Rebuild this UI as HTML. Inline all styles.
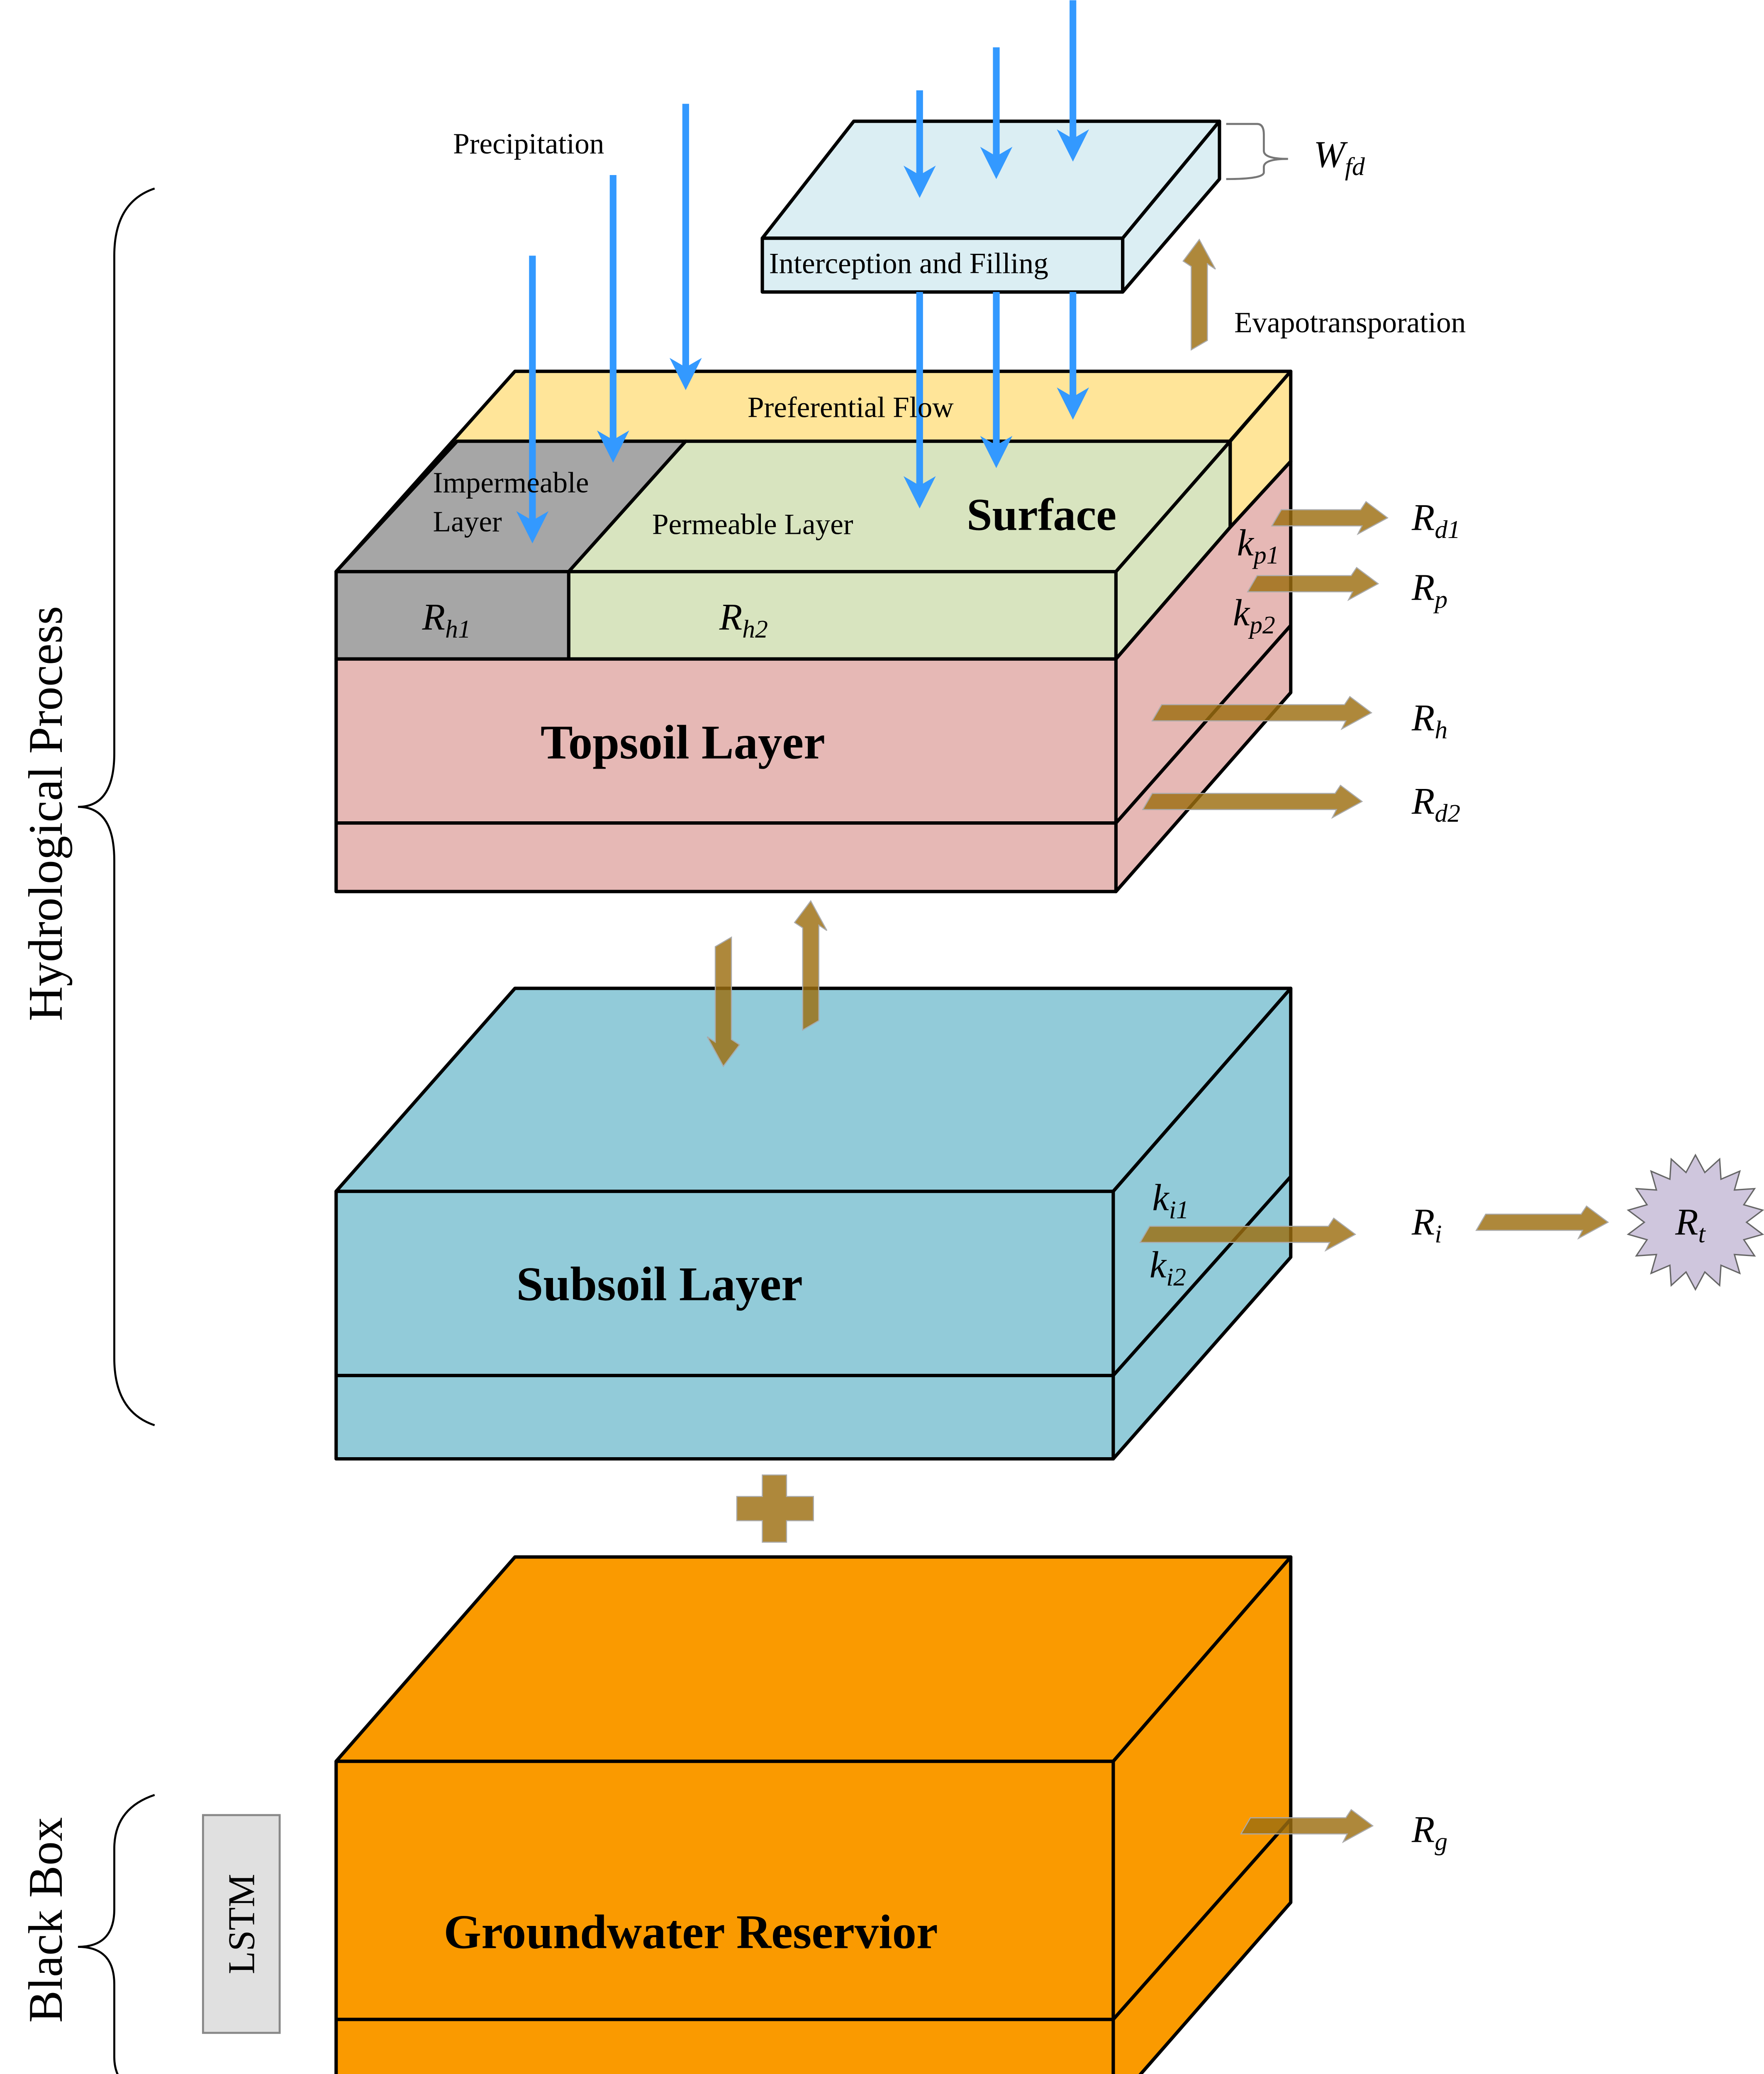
<!DOCTYPE html>
<html><head><meta charset="utf-8">
<style>
html,body{margin:0;padding:0;background:#fff;width:4252px;height:5083px;overflow:hidden;}
svg{display:block;}
text{font-family:"Liberation Serif",serif;}
</style></head>
<body>
<svg width="4252" height="5083" viewBox="0 0 1312 1568" xmlns="http://www.w3.org/2000/svg">
<rect width="1312" height="1568" fill="#fff"/>
<g stroke="#000" stroke-width="2.5" stroke-linejoin="round">
<polygon points="250,1310 383,1158 960,1158 828,1310" fill="#fa9a00"/>
<polygon points="828,1310 960,1158 960,1415 828,1566" fill="#fa9a00"/>
<rect x="250" y="1310" width="578" height="256" fill="#fa9a00"/>
<line x1="250" y1="1502" x2="828" y2="1502"/>
<line x1="828" y1="1502" x2="960" y2="1353"/>
<polygon points="250,886 383,735 960,735 828,886" fill="#92cbd9"/>
<polygon points="828,886 960,735 960,935 828,1085" fill="#92cbd9"/>
<rect x="250" y="886" width="578" height="199" fill="#92cbd9"/>
<line x1="250" y1="1023" x2="828" y2="1023"/>
<line x1="828" y1="1023" x2="960" y2="875"/>
<polygon points="250,425 383,276 960,276 830,425" fill="#ffe599"/>
<polygon points="340,328 510,328 423,425 250,425" fill="#a6a6a6"/>
<polygon points="510,328 915,328 830,425 423,425" fill="#d8e4bf"/>
<polygon points="830,425 915,328 915,392 830,490" fill="#d8e4bf"/>
<polygon points="915,328 960,276 960,343 915,392" fill="#ffe599"/>
<polygon points="830,490 915,392 960,343 960,515 830,663" fill="#e6b8b5"/>
<line x1="830" y1="612" x2="960" y2="465"/>
<rect x="250" y="425" width="173" height="65" fill="#a6a6a6"/>
<rect x="423" y="425" width="407" height="65" fill="#d8e4bf"/>
<rect x="250" y="490" width="580" height="173" fill="#e6b8b5"/>
<line x1="250" y1="612" x2="830" y2="612"/>
<polygon points="567,177 635,90 907,90 835,177" fill="#dbeef3"/>
<polygon points="835,177 907,90 907,133 835,217" fill="#dbeef3"/>
<rect x="567" y="177" width="268" height="40" fill="#dbeef3"/>
</g>
<g stroke="#3399ff" stroke-width="5">
<line x1="396" y1="190" x2="396" y2="390"/>
<line x1="456" y1="130" x2="456" y2="330"/>
<line x1="510" y1="77" x2="510" y2="278"/>
<line x1="684" y1="67" x2="684" y2="135"/>
<line x1="741" y1="35" x2="741" y2="120"/>
<line x1="798" y1="0" x2="798" y2="108"/>
<line x1="684" y1="217" x2="684" y2="365"/>
<line x1="741" y1="217" x2="741" y2="335"/>
<line x1="798" y1="217" x2="798" y2="300"/>
</g>
<g fill="#3399ff">
<polygon points="396,404 384,380 396,387 408,380"/>
<polygon points="456,344 444,320 456,327 468,320"/>
<polygon points="510,290 498,266 510,273 522,266"/>
<polygon points="684,147 672,123 684,130 696,123"/>
<polygon points="741,133 729,109 741,116 753,109"/>
<polygon points="798,120 786,96 798,103 810,96"/>
<polygon points="684,378 672,354 684,361 696,354"/>
<polygon points="741,348 729,324 741,331 753,324"/>
<polygon points="798,312 786,288 798,295 810,288"/>
</g>
<g fill="#9c6e10" fill-opacity="0.82" stroke="#aaa" stroke-width="0.8">
<polygon points="953,379 1012,379 1016,373 1032,385 1010,397 1013,391 946,391"/>
<polygon points="935,428 1005,428 1009,422 1025,434 1003,446 1006,440 928,440"/>
<polygon points="864,524 1000,524 1004,518 1020,530 998,542 1001,536 857,536"/>
<polygon points="857,590 993,590 997,584 1013,596 991,608 994,602 850,602"/>
<polygon points="855,912 988,912 992,906 1008,918 986,930 989,924 848,924"/>
<polygon points="1105,903 1176,903 1180,897 1196,909 1174,921 1177,915 1098,915"/>
<polygon points="930,1352 1001,1352 1005,1346 1021,1358 999,1370 1002,1364 923,1364"/>
<polygon points="886,260 886,198 880,194 892,178 904,200 898,196 898,253"/>
<polygon points="597,766 597,690 591,686 603,670 615,692 609,688 609,759"/>
<polygon points="544,697 544,773 550,777 538,793 526,771 532,775 532,704"/>
<polygon points="567,1097 585,1097 585,1113 605,1113 605,1131 585,1131 585,1147 567,1147 567,1131 548,1131 548,1113 567,1113"/>
</g>
<polygon fill="#cfc6dd" stroke="#666" stroke-width="1" points="
1261,859 1268,872 1279,862 1280,877 1294,871 1290,885 1305,884 1297,896 1311,900 1299,909 1311,918 1297,922 1305,934 1290,933 1294,947 1280,941 1279,956 1268,946 1261,959 1254,946 1243,956 1242,941 1228,947 1232,933 1217,934 1225,922 1211,918 1223,909 1211,900 1225,896 1217,884 1232,885 1228,871 1242,877 1243,862 1254,872"/>
<g fill="none" stroke="#000" stroke-width="1.5">
<path d="M115,140 Q85,150 85,190 L85,560 Q85,600 58,600 Q85,600 85,640 L85,1010 Q85,1050 115,1060"/>
<path d="M115,1335 Q85,1345 85,1375 L85,1420 Q85,1448 58,1448 Q85,1448 85,1476 L85,1530 Q85,1555 115,1562"/>
</g>
<path d="M912,92 L935,92 Q940,92 940,100 L940,112 Q940,118 958,118 Q940,118 940,124 L940,128 Q940,133 912,133" fill="none" stroke="#777" stroke-width="1.5"/>
<rect x="151" y="1350" width="57" height="162" fill="#e0e0e0" stroke="#888" stroke-width="1.5"/>
<g font-size="22" fill="#000">
<text x="337" y="114">Precipitation</text>
<text x="572" y="203">Interception and Filling</text>
<text x="918" y="247">Evapotransporation</text>
<text x="556" y="310">Preferential Flow</text>
<text x="322" y="366">Impermeable</text>
<text x="322" y="395">Layer</text>
<text x="485" y="397">Permeable Layer</text>
</g>
<text x="719" y="394" font-size="34" font-weight="bold" font-family="Liberation Sans,sans-serif">Surface</text>
<text x="402" y="564" font-size="36" font-weight="bold">Topsoil Layer</text>
<text x="384" y="967" font-size="36" font-weight="bold">Subsoil Layer</text>
<text x="330" y="1449" font-size="36" font-weight="bold">Groundwater Reservior</text>
<g font-size="28" font-style="italic">
<text x="314" y="468">R<tspan font-size="19" dy="6">h1</tspan></text>
<text x="535" y="468">R<tspan font-size="19" dy="6">h2</tspan></text>
<text x="977" y="124">W<tspan font-size="19" dy="6">fd</tspan></text>
<text x="1050" y="394">R<tspan font-size="19" dy="6">d1</tspan></text>
<text x="1050" y="446">R<tspan font-size="19" dy="6">p</tspan></text>
<text x="1050" y="543">R<tspan font-size="19" dy="6">h</tspan></text>
<text x="1050" y="605">R<tspan font-size="19" dy="6">d2</tspan></text>
<text x="1050" y="918">R<tspan font-size="19" dy="6">i</tspan></text>
<text x="1246" y="918">R<tspan font-size="19" dy="6">t</tspan></text>
<text x="1050" y="1370">R<tspan font-size="19" dy="6">g</tspan></text>
<text x="920" y="413">k<tspan font-size="19" dy="6">p1</tspan></text>
<text x="917" y="465">k<tspan font-size="19" dy="6">p2</tspan></text>
<text x="857" y="900">k<tspan font-size="19" dy="6">i1</tspan></text>
<text x="855" y="950">k<tspan font-size="19" dy="6">i2</tspan></text>
</g>
<text transform="translate(46,605) rotate(-90)" font-size="36" text-anchor="middle">Hydrological Process</text>
<text transform="translate(46,1428) rotate(-90)" font-size="36" text-anchor="middle">Black Box</text>
<text transform="translate(189,1431) rotate(-90)" font-size="28" text-anchor="middle">LSTM</text>
</svg>
</body></html>
